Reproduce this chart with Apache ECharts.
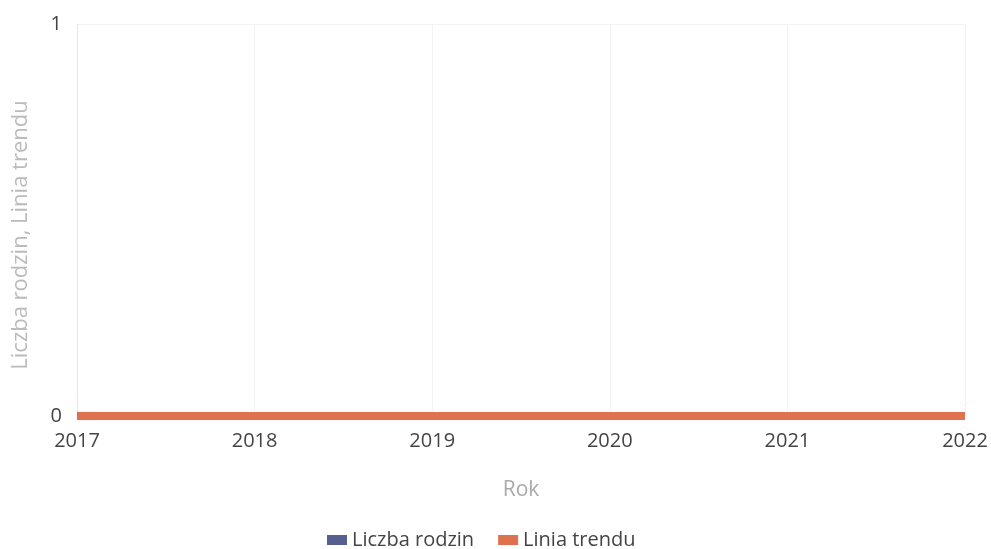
<!DOCTYPE html>
<html><head><meta charset="utf-8">
<script src="https://cdn.jsdelivr.net/npm/echarts@6/dist/echarts.min.js"></script>
<style>html,body{margin:0;padding:0;background:#fff}#c{width:991px;height:549px}</style>
</head><body><div id="c"></div>
<script>
var years = ['2017','2018','2019','2020','2021','2022'];
var liczbaRodzin = [0,0,0,0,0,0];
var liniaTrendu = [0,0,0,0,0,0];
var yTicks = [0,1];

var chart = echarts.init(document.getElementById('c'));
var font = 'Open Sans';
chart.setOption({
  animation:false,
  textStyle:{fontFamily:font},
  grid:{left:77,right:26,top:24,bottom:133},
  legend:{top:525,left:322,itemWidth:20,itemHeight:10,itemGap:24,
    textStyle:{fontFamily:font,fontSize:20,color:'#444'},
    data:[{name:'Liczba rodzin',icon:'rect'},{name:'Linia trendu',icon:'rect'}]},
  xAxis:{type:'category',data:years,boundaryGap:false,
    name:'Rok',nameLocation:'middle',nameGap:64,
    nameTextStyle:{fontFamily:font,fontSize:21,color:'#aaa'},
    axisLine:{show:false},axisTick:{show:false},
    axisLabel:{fontFamily:font,fontSize:20,color:'#444',margin:15},
    splitLine:{show:true,lineStyle:{color:'#f3f3f3'}}},
  yAxis:{type:'value',min:yTicks[0],max:yTicks[1],interval:1,
    name:'Liczba rodzin, Linia trendu',nameLocation:'middle',nameGap:45,
    nameTextStyle:{fontFamily:font,fontSize:22,color:'#bbb',padding:[0,30,0,0]},
    axisLine:{show:true,lineStyle:{color:'#e6e6e6'}},axisTick:{show:false},
    axisLabel:{fontFamily:font,fontSize:20,color:'#444',margin:15},
    splitLine:{show:true,lineStyle:{color:'#f3f3f3'}}},
  series:[
    {name:'Liczba rodzin',type:'line',data:liczbaRodzin,symbol:'none',
      itemStyle:{color:'#55608f'},lineStyle:{width:4,color:'#55608f'}},
    {name:'Linia trendu',type:'line',data:liniaTrendu,symbol:'none',
      itemStyle:{color:'#e0714f'},lineStyle:{width:8,color:'#e0714f'}}
  ]
});
</script></body></html>
